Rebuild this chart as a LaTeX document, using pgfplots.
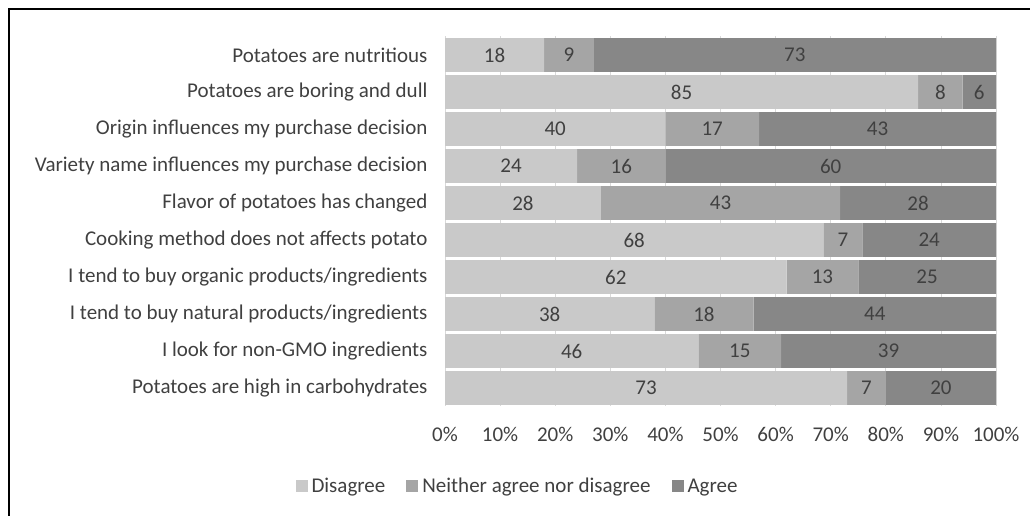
\documentclass[border=0pt]{standalone}
\usepackage{fontspec}
\setmainfont{Carlito}
\usepackage{pgfplots}
\usepackage{pgfplotstable}
\pgfplotsset{compat=1.18}

\definecolor{cDis}{HTML}{C9C9C9}
\definecolor{cNeu}{HTML}{A5A5A5}
\definecolor{cAgr}{HTML}{878787}
\definecolor{txt}{HTML}{404040}
\definecolor{gridc}{HTML}{D9D9D9}

% share of respondents per statement (rows top to bottom)
\pgfplotstableread{
row dis neu agr
0 18 9 73
1 85 8 6
2 40 17 43
3 24 16 60
4 28 43 28
5 68 7 24
6 62 13 25
7 38 18 44
8 46 15 39
9 73 7 20
}\survey
\pgfplotstablecreatecol[expr={\thisrow{dis}+\thisrow{neu}+\thisrow{agr}}]{tot}\survey

\newcommand{\lblfont}{\fontsize{21}{24}\selectfont}

\pgfplotsset{
  seg/.style={
    draw=none,
    fill=#1,
    nodes near coords,
    every node near coord/.append style={
      anchor=center, font=\lblfont, text=txt},
  },
}

\begin{document}
\begin{tikzpicture}
\useasboundingbox (0pt,0pt) rectangle (1030pt,516pt);
\draw[line width=2pt] (9pt,0pt) -- (9pt,507pt) -- (1030pt,507pt);
\begin{axis}[
  at={(445pt,479.5pt)}, anchor=north west,
  scale only axis, width=551pt, height=370pt,
  xbar stacked, bar width=0.91,
  y dir=reverse, ymin=-0.5, ymax=9.5,
  xmin=0, xmax=100,
  /pgf/number format/assume math mode=true,
  axis line style={draw=none},
  tick style={draw=none},
  xmajorgrids, major grid style={draw=gridc, line width=0.8pt},
  xtick={0,10,...,100},
  xticklabel={\pgfmathprintnumber{\tick}\%},
  xticklabel style={font=\lblfont, text=txt, yshift=-17pt},
  ytick={0,...,9},
  yticklabels={
    Potatoes are nutritious,
    Potatoes are boring and dull,
    Origin influences my purchase decision,
    Variety name influences my purchase decision,
    Flavor of potatoes has changed,
    Cooking method does not affects potato,
    I tend to buy organic products/ingredients,
    I tend to buy natural products/ingredients,
    I look for non-GMO ingredients,
    Potatoes are high in carbohydrates},
  yticklabel style={font=\lblfont, text=txt, xshift=-14pt},
  legend columns=3,
  legend style={draw=none, at={(0.1316,-0.215)}, anchor=center,
    font=\lblfont, text=txt,
    /tikz/every odd column/.append style={column sep=2pt},
    /tikz/every even column/.append style={column sep=19pt}},
  legend image code/.code={\fill[#1] (0pt,-6pt) rectangle (12pt,6pt);},
]
\addplot[seg=cDis, point meta=explicit]
  table[y=row, x expr={\thisrow{dis}*100/\thisrow{tot}}, meta=dis]{\survey};
\addplot[seg=cNeu, point meta=explicit]
  table[y=row, x expr={\thisrow{neu}*100/\thisrow{tot}}, meta=neu]{\survey};
\addplot[seg=cAgr, point meta=explicit]
  table[y=row, x expr={\thisrow{agr}*100/\thisrow{tot}}, meta=agr]{\survey};
\legend{Disagree, Neither agree nor disagree, Agree}
\end{axis}
\end{tikzpicture}
\end{document}
